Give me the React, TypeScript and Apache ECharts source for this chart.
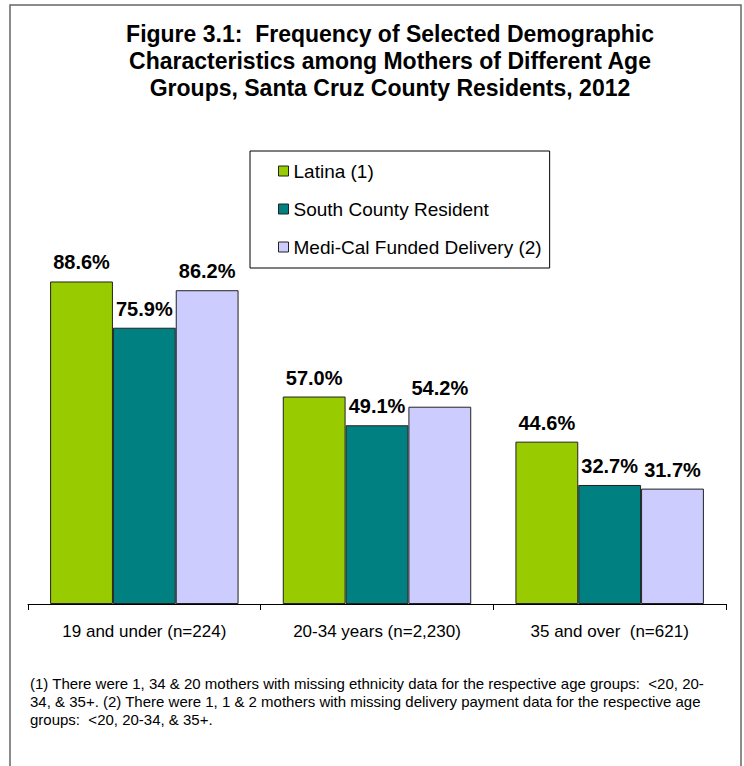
import React, { useEffect, useRef } from "react";
import * as echarts from "echarts";

const categories = ["19 and under (n=224)", "20-34 years (n=2,230)", "35 and over  (n=621)"];
const latina = [88.6, 57.0, 44.6];
const southCounty = [75.9, 49.1, 32.7];
const mediCal = [86.2, 54.2, 31.7];
const seriesNames = ["Latina (1)", "South County Resident", "Medi-Cal Funded Delivery (2)"];
const titleLines = [
  "Figure 3.1:  Frequency of Selected Demographic",
  "Characteristics among Mothers of Different Age",
  "Groups, Santa Cruz County Residents, 2012",
];
const footnote =
  "(1) There were 1, 34 & 20 mothers with missing ethnicity data for the respective age groups:  <20, 20-\n" +
  "34, & 35+. (2) There were 1, 1 & 2 mothers with missing delivery payment data for the respective age\n" +
  "groups:  <20, 20-34, & 35+.";

const FONT = "'Liberation Sans', Arial, sans-serif";

export default function App() {
  const ref = useRef<HTMLDivElement>(null);
  useEffect(() => {
    if (!ref.current) return;
    const chart = echarts.init(ref.current, null, { renderer: "svg" });
    const mkSeries = (name: string, data: number[], color: string) => ({
      type: "bar",
      name,
      data,
      barWidth: "27%",
      barGap: "0%",
      itemStyle: { color, borderColor: "#222", borderWidth: 1 },
      label: {
        show: true,
        position: "top",
        distance: 9,
        formatter: (p: any) => p.value.toFixed(1) + "%",
        fontFamily: FONT,
        fontWeight: "bold",
        fontSize: 20,
        color: "#000",
      },
    });
    chart.setOption({
      animation: false,
      backgroundColor: "#fff",
      textStyle: { fontFamily: FONT },
      grid: { left: 28, right: 18, top: 240, bottom: 162, containLabel: false },
      legend: {
        orient: "vertical",
        left: 250,
        top: 151,
        padding: [10, 8, 11, 28],
        itemGap: 18,
        itemWidth: 10,
        itemHeight: 10,
        icon: "rect",
        borderColor: "#000",
        borderWidth: 1,
        backgroundColor: "#fff",
        itemStyle: { borderColor: "#222", borderWidth: 1 },
        textStyle: { fontFamily: FONT, fontSize: 19, color: "#000", lineHeight: 20 },
        data: seriesNames,
      },
      xAxis: {
        type: "category",
        data: categories,
        axisLine: { lineStyle: { color: "#000", width: 1 } },
        axisTick: { show: true, length: 6, lineStyle: { color: "#000" } },
        axisLabel: { fontFamily: FONT, fontSize: 17, color: "#000", margin: 19 },
      },
      yAxis: {
        type: "value",
        min: 0,
        max: 100,
        show: false,
        splitLine: { show: false },
      },
      series: [
        mkSeries(seriesNames[0], latina, "#99CC00"),
        mkSeries(seriesNames[1], southCounty, "#008080"),
        mkSeries(seriesNames[2], mediCal, "#CCCCFF"),
      ],
      graphic: [
        {
          type: "rect",
          shape: { x: 10, y: 5, width: 731, height: 800 },
          style: { fill: "none", stroke: "#666", lineWidth: 1.5 },
          silent: true,
        },
        {
          type: "text",
          x: 390,
          y: 20,
          style: {
            text: titleLines.join("\n"),
            fontFamily: FONT,
            fontWeight: "bold",
            fontSize: 23,
            lineHeight: 27,
            fill: "#000",
            align: "center",
            verticalAlign: "top",
          },
        },
        {
          type: "text",
          x: 30,
          y: 674,
          style: {
            text: footnote,
            fontFamily: FONT,
            fontSize: 15,
            lineHeight: 18,
            fill: "#000",
            align: "left",
            verticalAlign: "top",
          },
        },
      ],
    });
    return () => chart.dispose();
  }, []);
  return (
    <div
      ref={ref}
      style={{ position: "fixed", left: 0, top: 0, width: 744, height: 766 }}
    />
  );
}
